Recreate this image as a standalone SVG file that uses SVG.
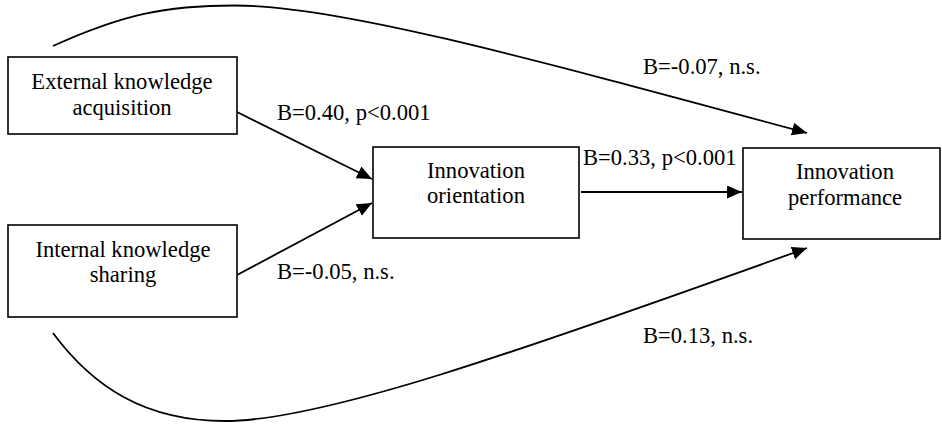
<svg xmlns="http://www.w3.org/2000/svg" width="942" height="424" viewBox="0 0 942 424">
  <style>
    .box { fill: #ffffff; stroke: #000000; stroke-width: 1.6; }
    .node-text { font-family: "Liberation Serif", "Times New Roman", serif; font-size: 22.6px; fill: #000000; text-anchor: middle; }
    .label { font-family: "Liberation Serif", "Times New Roman", serif; font-size: 22.6px; fill: #000000; }
    .edge { fill: none; stroke: #000000; stroke-width: 1.8; marker-end: url(#arrow); }
  </style>
  <defs>
    <marker id="arrow" markerUnits="userSpaceOnUse" markerWidth="16" markerHeight="14" refX="15" refY="6.5" orient="auto">
      <path d="M0,0 L15,6.5 L0,13 z" fill="#000000"/>
    </marker>
  </defs>
  <rect width="942" height="424" fill="#ffffff"/>

  <g id="connectors">
    <!-- external acquisition -> innovation performance (curved over the top) -->
    <path class="edge" d="M53,46 C123,14.5 165,5.5 235,5.5 C335,5.5 507,52 807,133"/>
    <!-- internal sharing -> innovation performance (curved underneath) -->
    <path class="edge" d="M53,333 C93,387 145,421 225,421 C320,421 507,356 807,248"/>
    <!-- sources -> innovation orientation -->
    <path class="edge" d="M237,112 L372,179"/>
    <path class="edge" d="M237,275 L372,203"/>
    <!-- orientation -> performance -->
    <path class="edge" d="M581,192 L742,192"/>
  </g>

  <g id="node-external">
    <rect class="box" x="8" y="57" width="229" height="77"/>
    <text class="node-text" x="122" y="89">External knowledge</text>
    <text class="node-text" x="122" y="115">acquisition</text>
  </g>

  <g id="node-internal">
    <rect class="box" x="8" y="225" width="229" height="92"/>
    <text class="node-text" x="123" y="257">Internal knowledge</text>
    <text class="node-text" x="123" y="282">sharing</text>
  </g>

  <g id="node-orientation">
    <rect class="box" x="373" y="147" width="206" height="91"/>
    <text class="node-text" x="476" y="178">Innovation</text>
    <text class="node-text" x="476" y="203">orientation</text>
  </g>

  <g id="node-performance">
    <rect class="box" x="743" y="148" width="197" height="91"/>
    <text class="node-text" x="845" y="179">Innovation</text>
    <text class="node-text" x="845" y="205">performance</text>
  </g>

  <g id="labels">
    <text class="label" x="277" y="120">B=0.40, p&lt;0.001</text>
    <text class="label" x="277" y="279">B=-0.05, n.s.</text>
    <text class="label" x="583" y="165">B=0.33, p&lt;0.001</text>
    <text class="label" x="643" y="74">B=-0.07, n.s.</text>
    <text class="label" x="643" y="343">B=0.13, n.s.</text>
  </g>
</svg>
